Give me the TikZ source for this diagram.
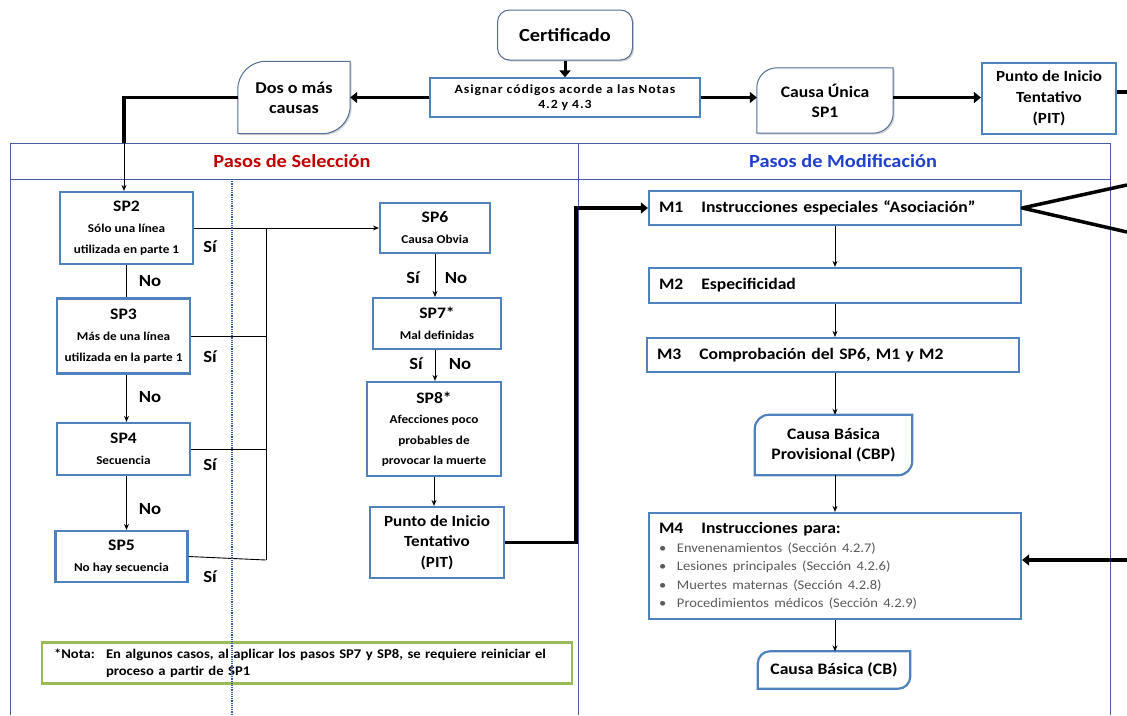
\documentclass[tikz,border=0pt]{standalone}
\usepackage{fontspec}
\setmainfont{Carlito}[FakeStretch=1.1]
\usetikzlibrary{arrows.meta,shadows,backgrounds}
\setlength{\parindent}{0pt}

\definecolor{boxblue}{RGB}{79,129,189}
\definecolor{framenavy}{RGB}{72,92,160}
\definecolor{leafgray}{RGB}{84,110,150}
\definecolor{notegreen}{RGB}{155,187,89}
\definecolor{selred}{RGB}{192,0,0}
\definecolor{modblue}{RGB}{32,64,204}
\definecolor{bulletgray}{RGB}{90,90,90}
\definecolor{dotblue}{RGB}{60,90,170}

\newcommand{\sptitle}[1]{{\fontsize{16}{21}\selectfont #1}}
\newcommand{\leafshape}[3]{% node, radius, style
  \begin{scope}[on background layer]
    \draw[#3] (#1.south west) -- ([yshift=-#2]#1.north west) arc[start angle=180, end angle=90, radius=#2]
      -- (#1.north east) -- ([yshift=#2]#1.south east) arc[start angle=0, end angle=-90, radius=#2] -- cycle;
  \end{scope}}
\newcommand{\mitem}[1]{\makebox[18pt][l]{\textbullet}#1\par}

\begin{document}
\begin{tikzpicture}[x=1pt, y=-1pt, >={Stealth[length=6pt,width=5pt]},
  stepbox/.style={draw=boxblue, line width=2.2pt, fill=white, align=center, inner sep=1pt, font=\fontsize{12}{21}\selectfont\bfseries},
  mbox/.style={draw=boxblue, line width=2.2pt, fill=white, text width=352pt, inner xsep=10pt, align=left, font=\fontsize{16}{19}\selectfont\bfseries},
  topbox/.style={align=center, font=\fontsize{16}{20}\selectfont\bfseries},
  leafline/.style={draw=leafgray, line width=1pt, fill=white, drop shadow={shadow xshift=1.5pt, shadow yshift=-1.5pt, opacity=0.35}},
  leafblue/.style={draw=boxblue, line width=2.2pt, fill=white},
  yesno/.style={font=\fontsize{17}{20}\selectfont\bfseries},
  head/.style={font=\fontsize{18.5}{22}\selectfont\bfseries},
  fatline/.style={line width=3.5pt},
  fatarrow/.style={line width=3.5pt, -{Triangle[length=7pt,width=11pt]}},
  thinline/.style={line width=0.9pt},
  frameline/.style={draw=framenavy, line width=0.9pt}]

  \useasboundingbox (0,0) rectangle (1127,715);

  % panels
  \draw[frameline] (10,715) -- (10,143) -- (1110,143) -- (1110,715);
  \draw[frameline] (10,179) -- (1110,179);
  \draw[frameline] (578,143) -- (578,715);
  \node[head, text=selred] (hsel) at (292,161) {Pasos de Selección};
  \node[head, text=modblue] (hmod) at (843,161) {Pasos de Modificación};

  % top row
  \node[draw=leafgray, line width=1pt, fill=white, rounded corners=12pt, minimum width=135pt, minimum height=50pt,
    drop shadow={shadow xshift=1.5pt, shadow yshift=-1.5pt, opacity=0.35}, font=\fontsize{18.5}{22}\selectfont\bfseries] (cert) at (565,35) {Certificado};
  \node[draw=boxblue, line width=1.3pt, minimum width=270pt, minimum height=39pt, align=center,
    font=\fontsize{12.5}{15}\selectfont\bfseries\addfontfeature{LetterSpace=7}] (asig) at (565,97.5) {Asignar códigos acorde a las Notas\\4.2 y 4.3};
  \node[topbox, minimum width=112pt, minimum height=72pt, font=\fontsize{16.5}{20}\selectfont\bfseries] (dos) at (294,97.5) {Dos o más\\causas};
  \leafshape{dos}{28pt}{leafline}
  \node[topbox, minimum width=136pt, minimum height=65pt] (unica) at (825,100.5) {Causa Única\\SP1};
  \leafshape{unica}{20pt}{leafline}
  \node[topbox, draw=boxblue, line width=2.2pt, minimum width=134pt, minimum height=71pt,
    font=\fontsize{15.5}{21}\selectfont\bfseries] (pit1) at (1049,98.5) {Punto de Inicio\\Tentativo\\(PIT)};

  % selection steps
  \node[stepbox, minimum width=133pt, minimum height=72pt] (sp2) at (126.5,228) {\sptitle{SP2}\\Sólo una línea\\utilizada en parte 1};
  \node[stepbox, minimum width=133pt, minimum height=75pt] (sp3) at (123.5,336) {\sptitle{SP3}\\Más de una línea\\utilizada en la parte 1};
  \node[stepbox, minimum width=133pt, minimum height=52pt] (sp4) at (123.5,449) {\sptitle{SP4}\\Secuencia};
  \node[stepbox, minimum width=132pt, minimum height=51pt] (sp5) at (121.5,556.5) {\sptitle{SP5}\\No hay secuencia};
  \node[stepbox, minimum width=110pt, minimum height=50pt] (sp6) at (435,228) {\sptitle{SP6}\\Causa Obvia};
  \node[stepbox, minimum width=128pt, minimum height=51pt] (sp7) at (437,323.5) {\sptitle{SP7*}\\Mal definidas};
  \node[stepbox, minimum width=134pt, minimum height=94pt, font=\fontsize{12}{20.5}\selectfont\bfseries] (sp8) at (434,429)
    {\sptitle{SP8*}\\Afecciones poco\\probables de\\provocar la muerte};
  \node[stepbox, minimum width=134pt, minimum height=71pt, font=\fontsize{15.5}{20.5}\selectfont\bfseries] (pit2) at (437,542.5)
    {Punto de Inicio\\Tentativo\\(PIT)};

  \node[yesno] (no2) at (150,281) {No};
  \node[yesno] (no3) at (150,397) {No};
  \node[yesno] (no4) at (150,509) {No};
  \node[yesno] (si2) at (210,247) {Sí};
  \node[yesno] (si3) at (210,357) {Sí};
  \node[yesno] (si4) at (210,465) {Sí};
  \node[yesno] (si5) at (210,577) {Sí};
  \node[yesno] (si6) at (413,278) {Sí};
  \node[yesno] (no6) at (456,278) {No};
  \node[yesno] (si7) at (416,364) {Sí};
  \node[yesno] (no7) at (460,364) {No};

  % modification steps
  \node[mbox, minimum height=34pt] (m1) at (835,208) {M1\hspace{18pt}Instrucciones especiales “Asociación”};
  \node[mbox, minimum height=35pt] (m2) at (835,285.5) {M2\hspace{18pt}Especificidad};
  \node[mbox, minimum height=34pt] (m3) at (833,355) {M3\hspace{18pt}Comprobación del SP6, M1 y M2};
  \node[topbox, minimum width=157pt, minimum height=60pt] (cbp) at (833.5,445) {Causa Básica\\Provisional (CBP)};
  \leafshape{cbp}{14pt}{leafblue}
  \node[mbox, minimum height=106pt] (m4) at (835,566) {M4\hspace{18pt}Instrucciones para:\par
    {\fontsize{13.2}{18.5}\selectfont\mdseries\color{bulletgray}%
    \mitem{Envenenamientos (Sección 4.2.7)}%
    \mitem{Lesiones principales (Sección 4.2.6)}%
    \mitem{Muertes maternas (Sección 4.2.8)}%
    \mitem{Procedimientos médicos (Sección 4.2.9)}}};
  \node[topbox, minimum width=152pt, minimum height=37pt] (cb) at (834,670) {Causa Básica (CB)};
  \leafshape{cb}{12pt}{leafblue}

  \node[draw=notegreen, line width=2.5pt, fill=white, text width=506pt, inner xsep=12pt, minimum height=41pt, align=left,
    font=\fontsize{13.3}{17}\selectfont\bfseries] (nota) at (307,663)
    {\makebox[52pt][l]{*Nota:}En algunos casos, al aplicar los pasos SP7 y SP8, se requiere reiniciar el\\\hspace*{52pt}proceso a partir de SP1};

  % top connectors
  \draw[fatarrow, line width=3pt] (cert.south) -- (asig.north);
  \draw[fatarrow] (asig.west) -- (dos.east);
  \draw[fatarrow] (asig.east) -- (asig.east -| unica.west);
  \draw[fatarrow] (unica.east |- asig.east) -- (pit1.west |- asig.east);
  \coordinate (pitout) at (1127,92);
  \draw[fatline] (pit1.east |- pitout) -- (pitout);
  \coordinate (dosdown) at (124,143);
  \draw[fatline] (dos.west) -| (dosdown);
  \draw[thinline, ->] (dosdown) -- (dosdown |- sp2.north);

  % selection connectors
  \draw[thinline] (sp2.south) -- (sp2.south |- sp3.north);
  \draw[thinline, ->] (sp2.south |- sp3.south) -- (sp2.south |- sp4.north);
  \draw[thinline, ->] (sp2.south |- sp4.south) -- (sp2.south |- sp5.north);
  \coordinate (bustop) at (266,228);
  \coordinate (busbot) at (266,560);
  \draw[thinline, ->] (sp2.east) -- (sp6.west);
  \draw[thinline] (bustop) -- (busbot);
  \draw[thinline] (sp3.east) -- (sp3.east -| bustop);
  \draw[thinline] (sp4.east) -- (sp4.east -| bustop);
  \draw[thinline] (sp5.east) -- (busbot);
  \draw[thinline, ->] (sp6.south) -- (sp6.south |- sp7.north);
  \draw[thinline, ->] (sp6.south |- sp7.south) -- (sp6.south |- sp8.north);
  \draw[thinline, ->] (sp8.south) -- (sp8.south |- pit2.north);
  \coordinate (pitturn) at (576,208);
  \draw[fatarrow] (pit2.east) -| (pitturn) -- (m1.west);

  % modification connectors
  \draw[thinline, ->] (m1.south) -- (m1.south |- m2.north);
  \draw[thinline, ->] (m2.south) -- (m2.south |- m3.north);
  \draw[thinline, ->] (m2.south |- m3.south) -- (m2.south |- cbp.north);
  \draw[thinline, ->] (m2.south |- cbp.south) -- (m2.south |- m4.north);
  \draw[thinline, ->] (m4.south) -- (m4.south |- cb.north);
  \coordinate (m1up) at (1127,185);
  \coordinate (m1dn) at (1127,232);
  \draw[fatline, line join=round] (m1up) -- (m1.east) -- (m1dn);
  \coordinate (m4in) at (1127,560);
  \draw[fatarrow] (m4in) -- (m4.east |- m4in);

  % dotted guide
  \coordinate (dottop) at (232,179);
  \coordinate (dotbot) at (232,715);
  \draw[dotblue, line width=1.2pt, densely dotted] (dottop) -- (dotbot);
\end{tikzpicture}
\end{document}
